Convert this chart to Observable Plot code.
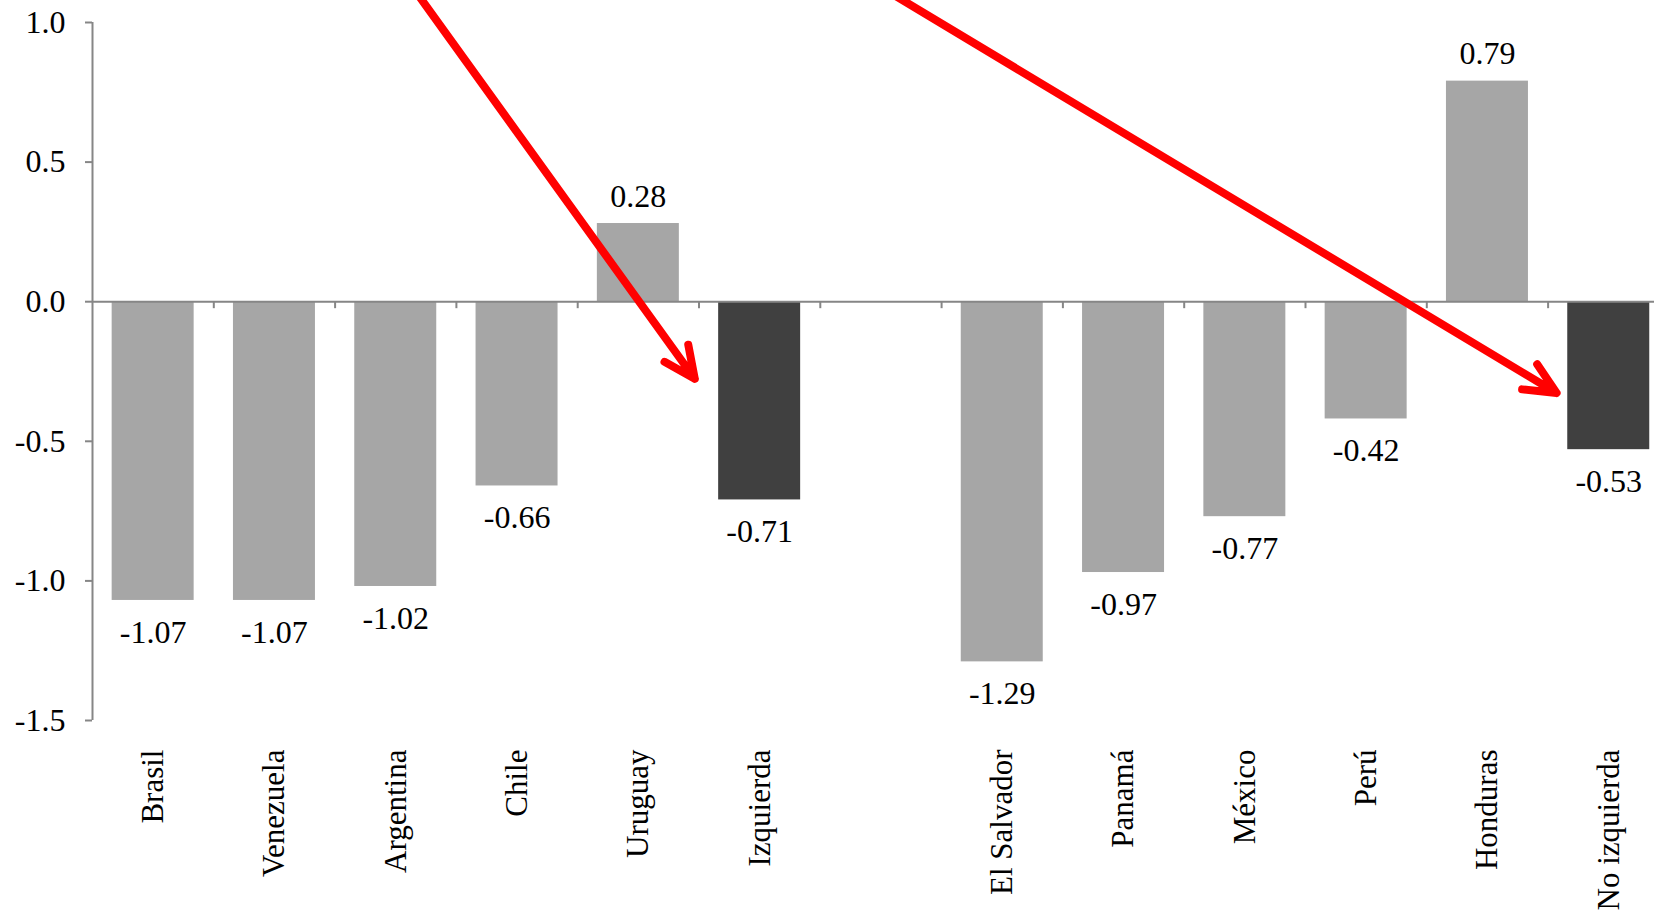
<!DOCTYPE html>
<html><head><meta charset="utf-8">
<script src="https://cdn.jsdelivr.net/npm/d3@7"></script>
<script src="https://cdn.jsdelivr.net/npm/@observablehq/plot@0.6"></script>
<style>html,body{margin:0;padding:0;background:#fff;overflow:hidden;} svg{display:block}</style>
</head><body><div id="chart"></div>
<script>
// Categories (the empty string is the gap between the two groups)
const categories = ["Brasil","Venezuela","Argentina","Chile","Uruguay","Izquierda","","El Salvador","Panamá","México","Perú","Honduras","No izquierda"];
const values = [-1.07,-1.07,-1.02,-0.66,0.28,-0.71,null,-1.29,-0.97,-0.77,-0.42,0.79,-0.53];
const groupAverages = ["Izquierda","No izquierda"];
const yTicks = [1.0,0.5,0.0,-0.5,-1.0,-1.5];
// Red annotation arrows (x in category slots, y in data units)
const arrowX1 = [2.60, 6.41];
const arrowY1 = [1.15, 1.15];
const arrowX2 = [4.965, 12.07];
const arrowY2 = [-0.276, -0.327];

const bars = categories.map((name, i) => ({name, i, value: values[i], avg: groupAverages.includes(name)}))
  .filter(d => d.value != null);
const boundaries = d3.range(1, categories.length);
const arrows = arrowX1.map((x1, k) => ({x1, y1: arrowY1[k], x2: arrowX2[k], y2: arrowY2[k]}));

const axisColor = "#868686";
const chart = Plot.plot({
  width: 1654, height: 917,
  marginLeft: 92, marginRight: 0, marginTop: 22, marginBottom: 197,
  x: {type: "linear", domain: [0, categories.length], range: [92, 92 + categories.length * 121.3]},
  y: {domain: [-1.5, 1.0]},
  style: {fontFamily: "'Liberation Serif', 'Times New Roman', serif", fontSize: "32px", color: "black", background: "white"},
  marks: [
    Plot.rect(bars, {x1: d => d.i + 0.162, x2: d => d.i + 0.838, y1: 0, y2: "value",
      fill: d => d.avg ? "#404040" : "#a6a6a6"}),
    Plot.ruleY([0], {stroke: axisColor, strokeWidth: 2}),
    Plot.ruleX(boundaries, {y1: 0, y2: -0.025, stroke: axisColor, strokeWidth: 2}),
    Plot.ruleX([0], {y1: -1.5, y2: 1.0, stroke: axisColor, strokeWidth: 2}),
    Plot.axisY(yTicks, {anchor: "left", tickFormat: d => d.toFixed(1), tickSize: 7, tickPadding: 20,
      stroke: axisColor, strokeWidth: 2, label: null, fontSize: 32}),
    Plot.axisX(bars.map(d => d.i + 0.5), {anchor: "bottom", tickFormat: d => categories[Math.floor(d)],
      tickRotate: -90, tickSize: 0, tickPadding: 29, label: null, fontSize: 31}),
    Plot.text(bars.filter(d => d.value < 0), {x: d => d.i + 0.5, y: "value", text: d => d.value.toFixed(2), dy: 32, fontSize: 32}),
    Plot.text(bars.filter(d => d.value >= 0), {x: d => d.i + 0.5, y: "value", text: d => d.value.toFixed(2), dy: -27, fontSize: 32}),
    Plot.arrow(arrows, {x1: "x1", y1: "y1", x2: "x2", y2: "y2", stroke: "#ff0000", strokeWidth: 8,
      headAngle: 50, headLength: 6.5, strokeLinecap: "round", strokeLinejoin: "round"})
  ]
});
document.getElementById("chart").append(chart);
</script>
</body></html>
